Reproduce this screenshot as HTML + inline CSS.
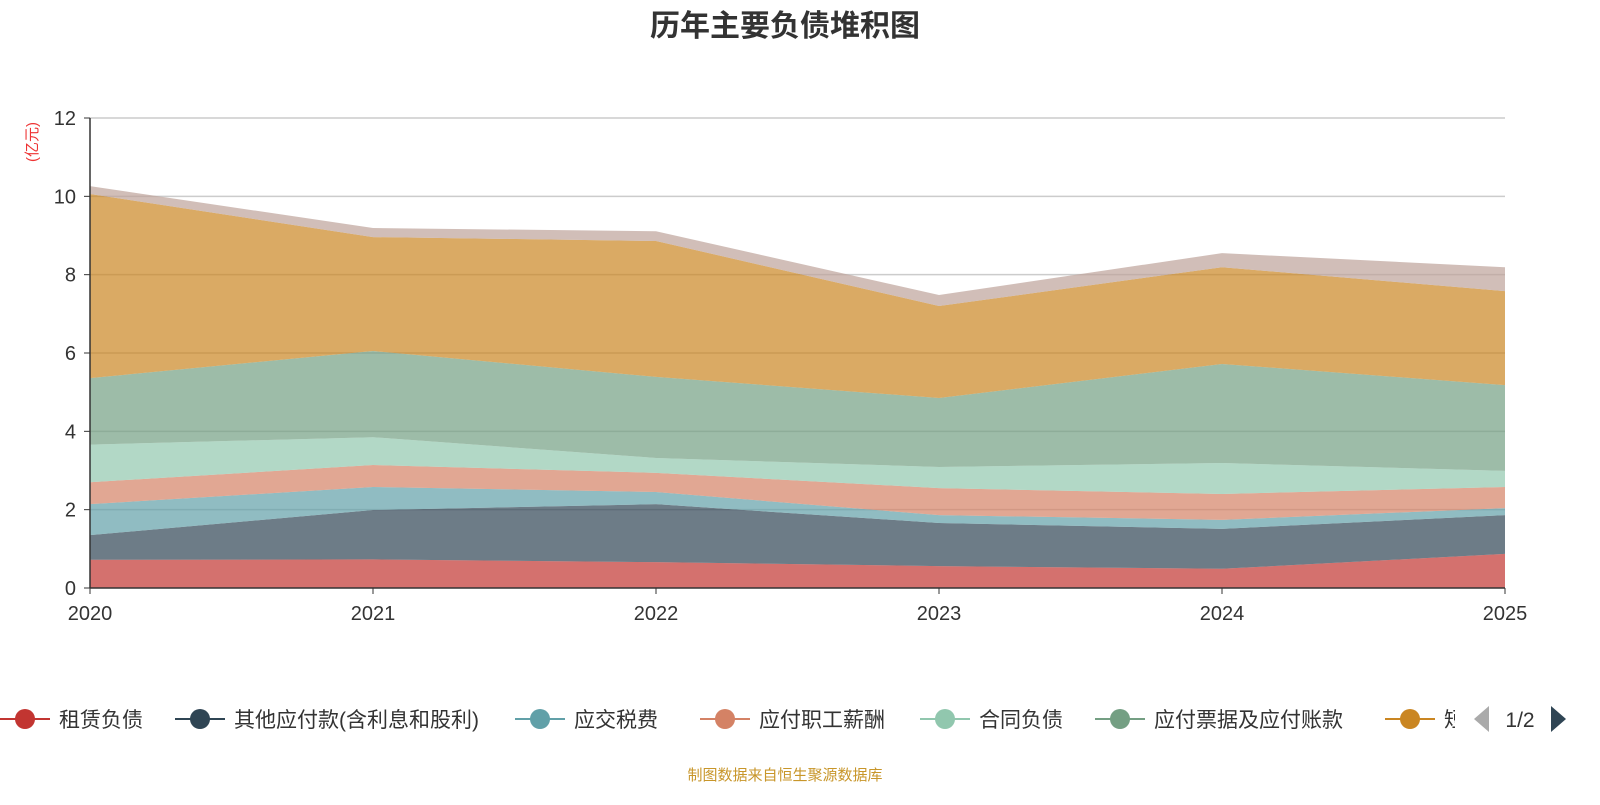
<!DOCTYPE html>
<html><head><meta charset="utf-8">
<style>
html,body{margin:0;padding:0;background:#fff;}
svg text{font-family:"Liberation Sans","Noto Sans CJK SC",sans-serif;}
</style></head>
<body>
<svg id="chart" width="1600" height="800" viewBox="0 0 1600 800" xmlns="http://www.w3.org/2000/svg">
<text x="785" y="36" text-anchor="middle" font-size="30" font-weight="bold" fill="#333">历年主要负债堆积图</text>
<text transform="translate(37,142) rotate(-90)" text-anchor="middle" font-size="15" fill="#e33">(亿元)</text>
<g id="grid"></g>
<g id="areas"></g>
<g id="axes"></g>
<g id="legend"></g>
<text x="785" y="780" text-anchor="middle" font-size="15" fill="#c8962a">制图数据来自恒生聚源数据库</text>
</svg>
<script>
const years = ["2020","2021","2022","2023","2024","2025"];
const seriesNames = ["租赁负债","其他应付款(含利息和股利)","应交税费","应付职工薪酬","合同负债","应付票据及应付账款","短期借款","其他"];
const leaseLiab = [0.72,0.73,0.66,0.56,0.49,0.87];
const otherPayables = [0.63,1.26,1.48,1.10,1.02,0.99];
const taxesPayable = [0.79,0.59,0.31,0.20,0.23,0.18];
const staffPay = [0.56,0.56,0.49,0.69,0.66,0.54];
const contractLiab = [0.96,0.71,0.38,0.54,0.79,0.41];
const notesPayable = [1.70,2.20,2.07,1.76,2.53,2.19];
const shortLoans = [4.70,2.91,3.47,2.35,2.47,2.40];
const others = [0.20,0.23,0.25,0.28,0.36,0.61];
const yTicks = [0,2,4,6,8,10,12];
const colors = ["#c23531","#2f4554","#61a0a8","#d48265","#91c7ae","#749f83","#ca8622","#bda29a"];
const seriesData = [leaseLiab,otherPayables,taxesPayable,staffPay,contractLiab,notesPayable,shortLoans,others];
const seriesKeys = ["lease","other-payables","taxes","staff-pay","contract","notes-payable","short-loans","others"];

const NS="http://www.w3.org/2000/svg";
const X0=90,X1=1505,Y0=588,Y1=118,YMAX=12;
const xs=i=>X0+(X1-X0)*i/(years.length-1);
const ys=v=>Y0-(Y0-Y1)*v/YMAX;
function mk(tag,attrs,parent){const e=document.createElementNS(NS,tag);for(const k in attrs)e.setAttribute(k,attrs[k]);parent.appendChild(e);return e;}
const grid=document.getElementById('grid'),areas=document.getElementById('areas'),axes=document.getElementById('axes'),legend=document.getElementById('legend');

yTicks.forEach(t=>{
  if(t>0){const l=mk('line',{x1:X0,x2:X1,y1:ys(t),y2:ys(t),stroke:'#ccc','stroke-width':1.5},grid);
  
  }
  const tx=mk('text',{x:X0-14,y:ys(t)+7,'text-anchor':'end','font-size':20,fill:'#333'},axes);
  tx.textContent=t;
  
  
  const tk=mk('line',{x1:X0-6,x2:X0,y1:ys(t),y2:ys(t),stroke:'#333'},axes);
  
  
});

let base=years.map(()=>0);
seriesData.forEach((arr,si)=>{
  const top=base.map((b,i)=>b+arr[i]);
  let d='';
  top.forEach((v,i)=>{d+=(i?'L':'M')+xs(i)+','+ys(v);});
  for(let i=years.length-1;i>=0;i--)d+='L'+xs(i)+','+ys(base[i]);
  d+='Z';
  const p=mk('path',{d:d,fill:colors[si],'fill-opacity':0.7,stroke:'none'},areas);
  
  
  base=top;
});

const xa=mk('line',{x1:X0,x2:X1,y1:Y0,y2:Y0,stroke:'#333','stroke-width':1.5},axes);


const ya=mk('line',{x1:X0,x2:X0,y1:Y0,y2:Y1,stroke:'#333','stroke-width':1.5},axes);


years.forEach((y,i)=>{
  const tk=mk('line',{x1:xs(i),x2:xs(i),y1:Y0,y2:Y0+6,stroke:'#333'},axes);
  
  
  const t=mk('text',{x:xs(i),y:Y0+32,'text-anchor':'middle','font-size':20,fill:'#333'},axes);
  t.textContent=y;
  
  
});

const legX=[0,175,515,700,920,1095,1385];
for(let i=0;i<7;i++){
  const g=mk('g',{},legend);
  
  
  const x=legX[i];
  mk('line',{x1:x,x2:x+50,y1:719,y2:719,stroke:colors[i],'stroke-width':2},g);
  mk('circle',{cx:x+25,cy:719,r:10,fill:colors[i]},g);
  const t=mk('text',{x:x+59,y:727,'font-size':21,fill:'#333'},g);
  t.textContent=seriesNames[i];
}
const cover=mk('rect',{x:1455,y:700,width:145,height:40,fill:'#fff'},legend);


const prev=mk('path',{d:'M1489,706 L1489,732 L1474,719 Z',fill:'#aaa'},legend);


const pg=mk('text',{x:1520,y:727,'text-anchor':'middle','font-size':21,fill:'#333'},legend);
pg.textContent='1/2';


const next=mk('path',{d:'M1551,706 L1551,732 L1566,719 Z',fill:'#2f4554'},legend);


</script>
</body></html>
